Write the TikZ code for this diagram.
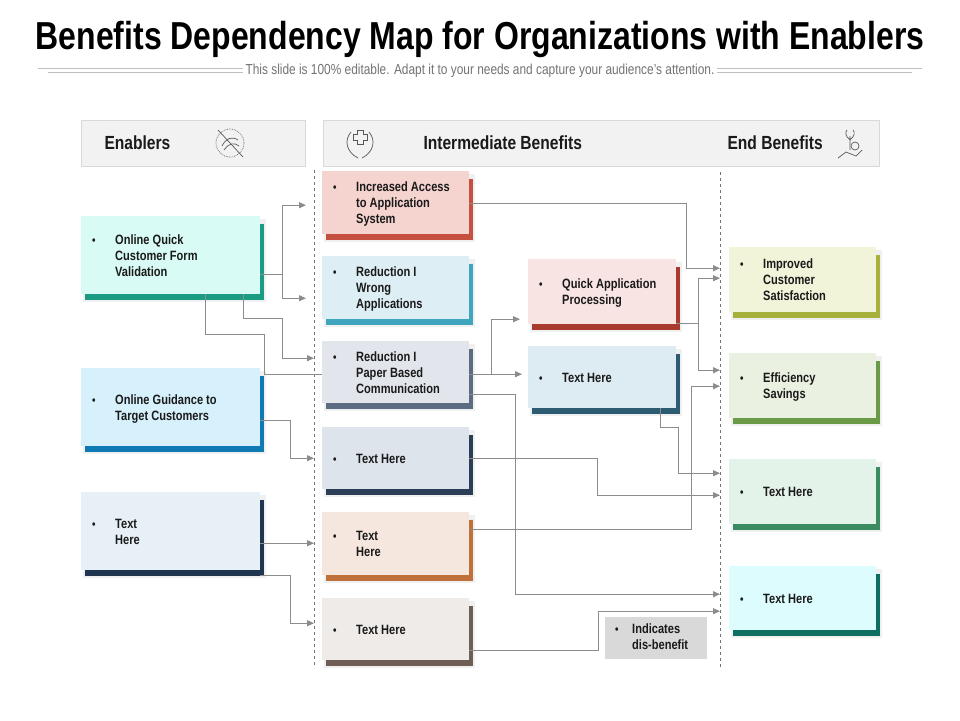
\documentclass[tikz,border=0pt]{standalone}
\usepackage{fontspec}
\setmainfont{Liberation Sans}[FakeStretch=0.82]
\usetikzlibrary{arrows.meta}
\definecolor{txt}{HTML}{1A1A1A}
\definecolor{ln}{HTML}{8C8C8C}
\tikzset{
  conn/.style={draw=ln, line width=1pt, -{Triangle[length=7pt,width=6pt]}},
  plain/.style={draw=ln, line width=1pt},
  boxtext/.style={font=\fontsize{13.5}{16}\selectfont\bfseries, text=txt, inner sep=0pt, anchor=west, align=left},
  hdr/.style={fill=black!5, draw=black!15, line width=0.8pt},
  icon/.style={draw=black!65, line width=0.7pt},
  htext/.style={font=\fontsize{19}{21}\selectfont\bfseries, text=txt, anchor=west}
}
\newcommand\itm[1]{\makebox[23pt][l]{\fontsize{12}{12}\selectfont•}\begin{tabular}[t]{@{}l@{}}#1\end{tabular}}
% name, x, y, w, h, fill hex, accent hex, text
\newcommand\bx[8]{%
  \definecolor{f#1}{HTML}{#6}\definecolor{a#1}{HTML}{#7}%
  \fill[black!6] (#2+2,#3+3) rectangle (#2+#4+6,#3+#5+8);
  \fill[a#1] (#2+4,#3+8) rectangle (#2+#4+4,#3+#5+6);
  \node[fill=f#1, anchor=north west, minimum width=#4pt, minimum height=#5pt, inner sep=0pt] (#1) at (#2,#3) {};
  \node[boxtext] (#1t) at ([xshift=11pt,yshift=-2pt]#1.west) {\itm{#8}};
}
\begin{document}
\begin{tikzpicture}[x=1pt,y=-1pt]
\useasboundingbox[fill=white] (0,0) rectangle (960,720);
% title
\node[font=\fontsize{39}{44}\selectfont\bfseries, text=black] (title) at (480,40) {Benefits Dependency Map for Organizations with Enablers};
\node[font=\fontsize{14.5}{16}\selectfont, text=black!55, fill=white, inner sep=2pt] (sub) at (480,71) {This slide is 100\% editable. Adapt it to your needs and capture your audience’s attention.};
\draw[black!25, line width=0.6pt] (38,68) -- (sub.west |- 0,68) (sub.east |- 0,68) -- (922,68);
\draw[black!25, line width=0.6pt] (48,72) -- (sub.west |- 0,72) (sub.east |- 0,72) -- (912,72);
% headers
\node[hdr, anchor=north west, minimum width=224pt, minimum height=46pt] (h1) at (81,120) {};
\node[hdr, anchor=north west, minimum width=556pt, minimum height=46pt] (h2) at (323,120) {};
\node[htext] (h1t) at (101,143) {Enablers};
\node[htext] (h2t) at (420,143) {Intermediate Benefits};
\node[htext] (h3t) at (724,143) {End Benefits};
% icons
\draw[icon, densely dotted] (230,143) circle (14);
\draw[icon] (218,130) -- (243,157);
\draw[icon] (222,146) .. controls (226,138) and (232,136) .. (238,140) (224,150) .. controls (229,143) and (234,142) .. (239,146);
\draw[icon] (351,132) .. controls (344,140) and (346,152) .. (358,158) (369,132) .. controls (376,140) and (374,152) .. (362,158);
\draw[icon] (357,130) -- (363,130) -- (363,134) -- (367,134) -- (367,140) -- (363,140) -- (363,144) -- (357,144) -- (357,140) -- (353,140) -- (353,134) -- (357,134) -- cycle;
\draw[icon] (838,158) -- (846,152) -- (856,156) -- (862,150);
\draw[icon] (850,150) -- (850,136) (850,140) .. controls (845,136) and (845,132) .. (847,130) (850,140) .. controls (855,136) and (855,132) .. (853,130);
\draw[icon] (855,146) circle (4);
% dashed dividers
\draw[black!55, dashed, line width=0.6pt] (314,170) -- (314,668);
\draw[black!55, dashed, line width=0.6pt] (720,172) -- (720,668);
% boxes
\bx{E1}{81}{216}{179}{78}{D9FBF5}{1A9C82}{Online Quick\\Customer Form\\Validation}
\bx{E2}{81}{368}{179}{78}{D6F1FB}{0E79B2}{Online Guidance to\\Target Customers}
\bx{E3}{81}{492}{179}{78}{E8F0F7}{1F3550}{Text\\Here}
\bx{M1}{322}{171}{147}{63}{F5D3CF}{C5503F}{Increased Access\\to Application\\System}
\bx{M2}{322}{256}{147}{63}{DDEEF4}{3FA4BE}{Reduction I\\Wrong\\Applications}
\bx{M3}{322}{341}{147}{62}{E2E6EC}{5A6B82}{Reduction I\\Paper Based\\Communication}
\bx{M4}{322}{427}{147}{62}{DEE4EC}{2C3E55}{Text Here}
\bx{M5}{322}{512}{147}{63}{F6E7DE}{C0703A}{Text\\Here}
\bx{M6}{322}{598}{147}{62}{EFEBE8}{6E5E56}{Text Here}
\bx{Q1}{528}{259}{148}{65}{F8E4E2}{A83A2E}{Quick Application\\Processing}
\bx{Q2}{528}{346}{148}{62}{DDEBF3}{2D5B72}{Text Here}
\bx{R1}{729}{247}{147}{65}{F2F4D9}{A6B03A}{Improved\\Customer\\Satisfaction}
\bx{R2}{729}{353}{147}{65}{EAF1E1}{6A9A45}{Efficiency\\Savings}
\bx{R3}{729}{459}{147}{65}{E3F3EA}{3A8C60}{Text Here}
\bx{R4}{729}{566}{147}{64}{DDFCFD}{0F6E62}{Text Here}
% legend
\node[fill=black!15, anchor=north west, minimum width=102pt, minimum height=42pt, inner sep=0pt] (L) at (605,617) {};
\node[boxtext] (Lt) at ([xshift=10pt]L.west) {\makebox[17pt][l]{\fontsize{12}{12}\selectfont•}\begin{tabular}[t]{@{}l@{}}Indicates\\dis-benefit\end{tabular}};
% connectors
\draw[conn] ([yshift=-19pt]E1.east) -- ++(22,0) |- ([xshift=-16pt,yshift=-2.5pt]M1.west);
\draw[conn] ([yshift=-19pt]E1.east) -- ++(22,0) |- ([xshift=-16pt,yshift=-10.5pt]M2.west);
\draw[conn] ([xshift=-17pt]E1.south east) -- ++(0,24) -- ++(39,0) |- ([xshift=-8pt,yshift=14pt]M3.west);
\draw[plain] ([xshift=-55pt]E1.south east) -- ++(0,40) -- ++(59,0) |- ([yshift=-2pt]M3.west);
\draw[conn] ([yshift=-13pt]E2.east) -- ++(30,0) |- ([xshift=-8pt]M4.west);
\draw[conn] ([yshift=-12pt]E3.east) -- ([xshift=-8pt,yshift=0.5pt]M5.west);
\draw[conn] ([yshift=-5pt]E3.south east) -- ++(30,0) |- ([xshift=-8pt,yshift=6pt]M6.west);
\draw[conn] ([yshift=-0.5pt]M1.east) -- ++(217,0) |- ([xshift=-9pt,yshift=11.5pt]R1.west);
\draw[conn] ([yshift=-2pt]M3.east) -- ([xshift=-6pt,yshift=3pt]Q2.west);
\draw[conn] ([yshift=-2pt]M3.east) -- ++(22,0) |- ([xshift=-8pt,yshift=-27.5pt]Q1.west);
\draw[conn] ([yshift=-22pt]M3.east) -- ++(46,0) |- ([xshift=-9pt,yshift=4pt]R4.west);
\draw[conn] ([yshift=-31.5pt]Q1.east) -- ++(22,0) |- ([xshift=-9pt,yshift=1.5pt]R1.west);
\draw[conn] ([yshift=-31.5pt]Q1.east) -- ++(22,0) |- ([xshift=-9pt,yshift=15.5pt]R2.west);
\draw[conn] ([xshift=-16pt]Q2.south east) -- ++(0,19) -- ++(18,0) |- ([xshift=-9pt,yshift=18.5pt]R3.west);
\draw[conn] (M4.east) -- ++(128,0) |- ([xshift=-9pt,yshift=-3.5pt]R3.west);
\draw[conn] ([yshift=14.5pt]M5.east) -- ++(222,0) |- ([xshift=-9pt,yshift=-0.5pt]R2.west);
\draw[conn] ([yshift=-21pt]M6.east) -- ++(129,0) |- ([xshift=-9pt,yshift=-13pt]R4.west);
\end{tikzpicture}
\end{document}
